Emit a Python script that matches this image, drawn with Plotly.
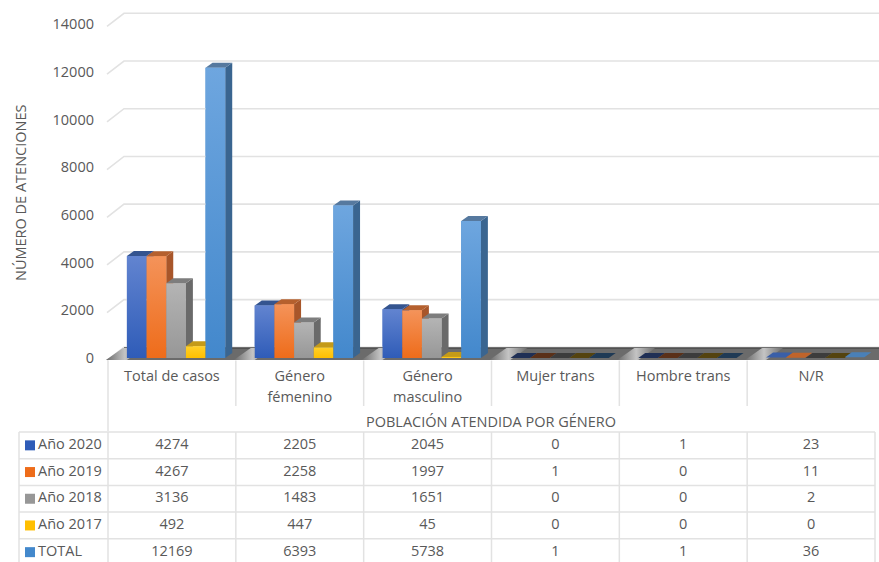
import plotly.graph_objects as go

categories = ["Total de casos", "Género<br>fémenino", "Género<br>masculino", "Mujer trans", "Hombre trans", "N/R"]
series_names = ["Año 2020", "Año 2019", "Año 2018", "Año 2017", "TOTAL"]
anio_2020 = [4274, 2205, 2045, 0, 1, 23]
anio_2019 = [4267, 2258, 1997, 1, 0, 11]
anio_2018 = [3136, 1483, 1651, 0, 0, 2]
anio_2017 = [492, 447, 45, 0, 0, 0]
total = [12169, 6393, 5738, 1, 1, 36]
y_ticks = [0, 2000, 4000, 6000, 8000, 10000, 12000, 14000]

all_series = [anio_2020, anio_2019, anio_2018, anio_2017, total]
# face colours: gradient top, gradient bottom, side, top, dim top (for near-zero bars)
palette = [
    ("#6284d0", "#2f5cb8", "#2b4a8c", "#34548f", "#1f2f55"),
    ("#f4935a", "#ee6c1a", "#a8562a", "#b5602e", "#5a3018"),
    ("#b4b4b4", "#979797", "#6a6a6a", "#7d7d7d", "#3c3c3c"),
    ("#ffd02a", "#ffbf00", "#b08a10", "#c49a18", "#54430f"),
    ("#6ea6df", "#4388cc", "#3a6590", "#56799f", "#1f3a55"),
]
bright_top = ("#3a5fa8", "#c0642a", "#3c3c3c", "#54430f", "#4a80b8")

W, H = 879, 562
LEFT, RIGHT, TOP, BASE = 108, 875, 24, 358
T_TOP = 431
PX_X = (RIGHT - LEFT) / 6
PX_Y = (BASE - TOP) / 14000
px_dx = lambda p: p / PX_X          # horizontal px to x units
px_dy = lambda p: p / PX_Y          # vertical px to y units
x_of = lambda p: (p - LEFT) / PX_X - 0.5

BAR_W = px_dx(19.66)
GROUP_START = px_dx(-45)
DEPTH_X, DEPTH_Y = px_dx(7), px_dy(5)
GRID = "#e2e2e2"
TEXT = "#595959"
FONT = "Open Sans"
FS = 14.5

fig = go.Figure()

# base bars (series)
for k, (name, vals) in enumerate(zip(series_names, all_series)):
    fig.add_trace(go.Bar(
        x=[i + GROUP_START + BAR_W * (k + 0.5) for i in range(len(vals))],
        y=vals, width=BAR_W, name=name, marker=dict(color=palette[k][1], line=dict(width=0)),
        showlegend=False, hoverinfo="skip"))

def poly(xs, ys, color=None, gradient=None, yaxis="y"):
    kw = dict(fillgradient=gradient) if gradient else dict(fillcolor=color)
    fig.add_trace(go.Scatter(x=xs, y=ys, mode="lines", fill="toself", line=dict(width=0),
                             showlegend=False, hoverinfo="skip", yaxis=yaxis, **kw))

# back-wall gridlines
gx, gy = [], []
for v in y_ticks:
    gx += [x_of(107), x_of(124), x_of(879), None]
    gy += [v - px_dy(2.4), v + px_dy(10.7), v + px_dy(10.7), None]
fig.add_trace(go.Scatter(x=gx, y=gy, mode="lines", line=dict(color=GRID, width=1.6),
                         showlegend=False, hoverinfo="skip"))

# floor
floor_front, floor_back = -px_dy(2), px_dy(10)
poly([x_of(107), x_of(124), x_of(879), x_of(879), x_of(107)],
     [floor_front, floor_back, floor_back, floor_front, floor_front], color="#6b6b6b")
fig.add_trace(go.Scatter(x=[x_of(124), x_of(879)], y=[floor_back, floor_back], mode="lines",
                         line=dict(color="#4a4a4a", width=1.5), showlegend=False, hoverinfo="skip"))
for i in range(len(categories)):
    a = i + GROUP_START - px_dx(21)
    b = i + GROUP_START
    poly([a, a + px_dx(17), b + px_dx(17), b, a],
         [floor_front, floor_back, floor_back, floor_front, floor_front],
         gradient=dict(type="horizontal", colorscale=[[0, "#6b6b6b"], [0.5, "#c4c4c4"], [1, "#6b6b6b"]]))

# 3-D faces, drawn left to right so that each front covers its neighbour's side
for i in range(len(categories)):
    for k, vals in enumerate(all_series):
        v = vals[i]
        x0 = i + GROUP_START + BAR_W * k
        x1 = x0 + BAR_W
        c_top, c_bot, c_side, c_cap, c_dim = palette[k]
        cap = c_cap if v >= 45 else (bright_top[k] if i == 5 else c_dim)
        poly([x1, x1 + DEPTH_X, x1 + DEPTH_X, x1, x1], [0, DEPTH_Y, v + DEPTH_Y, v, 0], color=c_side)
        poly([x0, x0 + DEPTH_X, x1 + DEPTH_X, x1, x0], [v, v + DEPTH_Y, v + DEPTH_Y, v, v], color=cap)
        if v >= 45:
            poly([x0, x0, x1, x1, x0], [0, v, v, 0, 0],
                 gradient=dict(type="vertical", colorscale=[[0, c_bot], [1, c_top]]))

# data table
ROW_H = 26.7
ROW0 = 432
tx, ty = [], []
for r in range(len(series_names) + 1):
    tx += [x_of(19), x_of(RIGHT), None]
    ty += [r, r, None]
for p in [19] + [LEFT + PX_X * j for j in range(7)]:
    tx += [x_of(p), x_of(p), None]
    ty += [0, (H - ROW0) / ROW_H, None]
fig.add_trace(go.Scatter(x=tx, y=ty, yaxis="y2", mode="lines", line=dict(color=GRID, width=1.5),
                         showlegend=False, hoverinfo="skip"))
# vertical stubs under the category labels
sx, sy = [], []
for j in range(6):
    bottom = ROW0 if j == 0 else 406
    sx += [x_of(LEFT + PX_X * j), x_of(LEFT + PX_X * j), None]
    sy += [-px_dy(2.5), -(bottom - BASE) / PX_Y, None]
fig.add_trace(go.Scatter(x=sx, y=sy, mode="lines", line=dict(color=GRID, width=1.5),
                         showlegend=False, hoverinfo="skip"))

for r, (name, vals) in enumerate(zip(series_names, all_series)):
    fig.add_trace(go.Scatter(x=list(range(len(vals))), y=[r + 0.5] * len(vals), yaxis="y2", mode="text",
                             text=[str(v) for v in vals], textposition="middle center",
                             textfont=dict(family=FONT, size=FS, color=TEXT),
                             showlegend=False, hoverinfo="skip"))
    fig.add_trace(go.Scatter(x=[x_of(30)], y=[r + 0.5], yaxis="y2", mode="markers",
                             marker=dict(symbol="square", size=10, color=palette[r][1]),
                             showlegend=False, hoverinfo="skip"))
    fig.add_trace(go.Scatter(x=[x_of(38)], y=[r + 0.5], yaxis="y2", mode="text", text=[name],
                             textposition="middle right",
                             textfont=dict(family=FONT, size=FS, color=TEXT),
                             showlegend=False, hoverinfo="skip"))

# a larger outer font with an inner span widens the line spacing of two-line labels
tick_text = ["<br>".join(f'<span style="font-size:{FS}px">{part}</span>' for part in c.split("<br>"))
             for c in categories]

fig.update_layout(
    width=W, height=H, margin=dict(l=0, r=0, t=0, b=0),
    paper_bgcolor="white", plot_bgcolor="rgba(0,0,0,0)", barmode="overlay", showlegend=False,
    font=dict(family=FONT, color=TEXT, size=FS),
    xaxis=dict(domain=[0, 1], range=[x_of(0), x_of(W)], tickmode="array", tickvals=list(range(len(categories))),
               ticktext=tick_text, ticks="", showgrid=False, zeroline=False, showline=False,
               anchor="free", position=(H - BASE) / H, ticklabelstandoff=6,
               tickfont=dict(family=FONT, size=16.2, color=TEXT)),
    yaxis=dict(domain=[(H - T_TOP) / H, 1], range=[-(T_TOP - BASE) / PX_Y, BASE / PX_Y], tickmode="array",
               tickvals=y_ticks, tickformat="d", ticks="", showgrid=False, zeroline=False, showline=False,
               anchor="free", position=LEFT / W, ticklabelstandoff=14,
               tickfont=dict(family=FONT, size=FS, color=TEXT)),
    yaxis2=dict(domain=[0, (H - T_TOP) / H], range=[(H - ROW0) / ROW_H, (T_TOP - ROW0) / ROW_H], visible=False,
                anchor="free", position=0),
    annotations=[
        dict(text="POBLACIÓN ATENDIDA POR GÉNERO", xref="paper", yref="paper", x=491 / W, y=1 - 421 / H,
             showarrow=False, xanchor="center", yanchor="middle", font=dict(family=FONT, size=FS, color=TEXT)),
        dict(text="NÚMERO DE ATENCIONES", xref="paper", yref="paper", x=20 / W, y=1 - 193 / H, textangle=-90,
             showarrow=False, xanchor="center", yanchor="middle", font=dict(family=FONT, size=FS, color=TEXT)),
    ],
)
fig.write_html("out.html", config=dict(displayModeBar=False), post_script="document.body.style.margin='0';document.body.style.overflow='hidden';")
